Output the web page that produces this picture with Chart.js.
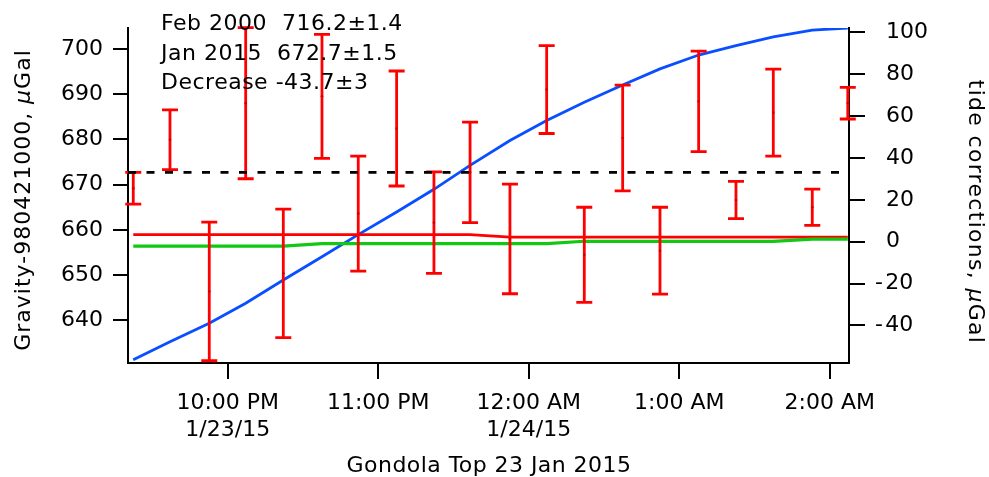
<!DOCTYPE html>
<html>
<head>
<meta charset="utf-8">
<script src="https://cdn.jsdelivr.net/npm/chart.js@4.4.1/dist/chart.umd.min.js"></script>
<style>
  html, body { margin: 0; padding: 0; background: #fff; }
  #wrap { width: 989px; height: 477px; position: relative; }
</style>
</head>
<body>
<div id="wrap"><canvas id="gravChart"></canvas></div>
<script>
// ── data (time in hours, 24 = midnight) ──
const times = [21.372, 21.616, 21.877, 22.119, 22.369, 22.626, 22.867, 23.122, 23.370, 23.610,
               23.875, 24.119, 24.369, 24.624, 24.872, 25.129, 25.377, 25.625, 25.884, 26.120];

// gravity - 980421000, µGal, with ± error
const gravity    = [669.2, 679.9, 646.4, 688.0, 650.4, 689.5, 663.6, 682.4, 661.6, 672.7,
                    658.0, 691.0, 654.5, 680.3, 655.4, 688.4, 666.6, 685.9, 665.0, 688.0];
const gravityErr = [3.5, 6.6, 15.3, 16.7, 14.2, 13.7, 12.7, 12.7, 11.2, 11.1,
                    12.1, 9.7, 10.5, 11.7, 9.6, 11.1, 4.1, 9.6, 4.0, 3.5];

// corrections, µGal (right axis)
const tide      = [-56.4, -47.7, -38.9, -29.4, -18.3, -7.2, 3.4, 14.2, 25.0, 36.4,
                   48.3, 57.8, 66.6, 74.8, 82.5, 89.1, 93.6, 97.8, 101.0, 102.0];
const redCorr   = [3.4, 3.4, 3.4, 3.4, 3.4, 3.4, 3.4, 3.4, 3.4, 3.4,
                   2.2, 2.2, 2.2, 2.2, 2.2, 2.2, 2.2, 2.2, 2.2, 2.2];
const greenCorr = [-2.1, -2.1, -2.1, -2.1, -2.1, -0.9, -0.9, -0.9, -0.9, -0.9,
                   -0.9, -0.9, 0.2, 0.2, 0.2, 0.2, 0.2, 0.2, 1.2, 1.2];

const jan2015 = 672.7;

const xMin = 21.337, xMax = 26.128;
const xTicks = [22, 23, 24, 25, 26];
const xTickLabels = [['10:00 PM', '1/23/15'], '11:00 PM', ['12:00 AM', '1/24/15'], '1:00 AM', '2:00 AM'];
const yTicks = [640, 650, 660, 670, 680, 690, 700];
const y2Ticks = [-40, -20, 0, 20, 40, 60, 80, 100];

const noteLines = ['Feb 2000  716.2\u00b11.4', 'Jan 2015  672.7\u00b11.5', 'Decrease -43.7\u00b13'];

// ── helpers ──
const FONT = '"DejaVu Sans", "Liberation Sans", sans-serif';
const pts = ys => times.map((t, i) => ({ x: t, y: ys[i] }));

function drawRich(ctx, parts, cx, cy, angle, spacing, baseline) {
    ctx.save();
    ctx.translate(cx, cy);
    ctx.rotate(angle);
    ctx.fillStyle = '#000';
    ctx.textAlign = 'left';
    ctx.textBaseline = baseline || 'middle';
    if ('letterSpacing' in ctx) ctx.letterSpacing = spacing + 'px';
    let total = 0;
    const widths = parts.map(p => {
        ctx.font = p.font;
        const w = ctx.measureText(p.text).width;
        total += w;
        return w;
    });
    let x = -total / 2;
    parts.forEach((p, i) => {
        ctx.font = p.font;
        ctx.fillText(p.text, x, 0);
        x += widths[i];
    });
    ctx.restore();
}

// error bars are drawn just before the point dataset (index 3)
const errorBars = {
    id: 'errorBars',
    beforeDatasetDraw(chart, args) {
        if (args.index !== 3) return;
        const { ctx, scales: { x, y } } = chart;
        ctx.save();
        ctx.strokeStyle = '#ff0000';
        ctx.lineWidth = 2.8;
        times.forEach((t, i) => {
            const px = x.getPixelForValue(t);
            const top = y.getPixelForValue(gravity[i] + gravityErr[i]);
            const bot = y.getPixelForValue(gravity[i] - gravityErr[i]);
            ctx.beginPath();
            ctx.moveTo(px, top); ctx.lineTo(px, bot);
            ctx.moveTo(px - 8, top); ctx.lineTo(px + 8, top);
            ctx.moveTo(px - 8, bot); ctx.lineTo(px + 8, bot);
            ctx.stroke();
        });
        ctx.restore();
    }
};

// note text and axis titles (µ in italics)
const texts = {
    id: 'texts',
    afterDraw(chart) {
        const ctx = chart.ctx;
        ctx.save();
        ctx.fillStyle = '#000';
        ctx.font = '22px ' + FONT;
        ctx.textAlign = 'left';
        ctx.textBaseline = 'alphabetic';
        if ('letterSpacing' in ctx) ctx.letterSpacing = '0.5px';
        noteLines.forEach((s, i) => ctx.fillText(s, 161, 30 + i * 29.6));
        ctx.restore();

        const reg = '22px ' + FONT, ital = 'italic 22px ' + FONT;
        drawRich(ctx, [{ text: 'Gravity-980421000, ', font: reg }, { text: '\u03bc', font: ital }, { text: 'Gal', font: reg }],
                 24, 200, -Math.PI / 2, 1.0);
        drawRich(ctx, [{ text: 'tide corrections, ', font: reg }, { text: '\u03bc', font: ital }, { text: 'Gal', font: reg }],
                 975, 212, Math.PI / 2, 1.3);
        drawRich(ctx, [{ text: 'Gondola Top 23 Jan 2015', font: reg }], 489, 472, 0, 0.45, 'alphabetic');
    }
};

const axisCommon = {
    border: { display: true, color: '#000', width: 2 },
    grid: { drawOnChartArea: false, drawTicks: true, color: '#000', lineWidth: 2 },
};

new Chart(document.getElementById('gravChart'), {
    type: 'line',
    data: {
        datasets: [
            { data: pts(tide), yAxisID: 'y2', borderColor: '#0a4fff', borderWidth: 2.8, pointRadius: 0, order: 4 },
            { data: pts(redCorr), yAxisID: 'y2', borderColor: '#ff0000', borderWidth: 2.8, pointRadius: 0, order: 3 },
            { data: pts(greenCorr), yAxisID: 'y2', borderColor: '#12c812', borderWidth: 3.2, pointRadius: 0, order: 2 },
            { data: pts(gravity), yAxisID: 'y', showLine: false, pointRadius: 1.3, pointBorderWidth: 0,
              pointBackgroundColor: '#cc0000', order: 1 },
            { data: [{ x: xMin, y: jan2015 }, { x: xMax, y: jan2015 }], yAxisID: 'y', borderColor: '#000',
              borderWidth: 2.8, borderDash: [8, 10.5], pointRadius: 0, order: 0 }
        ]
    },
    options: {
        responsive: true,
        maintainAspectRatio: false,
        animation: false,
        layout: { padding: { top: 28, left: 0, right: 0, bottom: 0 } },
        plugins: { legend: { display: false }, tooltip: { enabled: false } },
        scales: {
            x: {
                ...axisCommon,
                type: 'linear',
                min: xMin, max: xMax,
                grid: { ...axisCommon.grid, tickLength: 16 },
                afterBuildTicks: axis => { axis.ticks = xTicks.map(v => ({ value: v })); },
                afterFit: axis => { axis.height = 114; },
                ticks: {
                    color: '#000', font: { family: FONT, size: 22, lineHeight: 1.22 }, padding: 11,
                    maxRotation: 0, autoSkip: false,
                    callback: (v, i) => xTickLabels[i]
                }
            },
            y: {
                ...axisCommon,
                position: 'left',
                min: 630.6, max: 704.6,
                grid: { ...axisCommon.grid, tickLength: 15 },
                afterBuildTicks: axis => { axis.ticks = yTicks.map(v => ({ value: v })); },
                afterFit: axis => { axis.width = 128; },
                ticks: { color: '#000', font: { family: FONT, size: 22 }, padding: 10 }
            },
            y2: {
                ...axisCommon,
                position: 'right',
                min: -57.9, max: 102,
                grid: { ...axisCommon.grid, tickLength: 16 },
                afterBuildTicks: axis => { axis.ticks = y2Ticks.map(v => ({ value: v })); },
                afterFit: axis => { axis.width = 140; },
                ticks: {
                    color: '#000', font: { family: FONT, size: 22 }, padding: 10,
                    callback: v => v < 0 ? '-\u200a' + Math.abs(v) : '\u2002' + v
                }
            }
        }
    },
    plugins: [errorBars, texts]
});
</script>
</body>
</html>
